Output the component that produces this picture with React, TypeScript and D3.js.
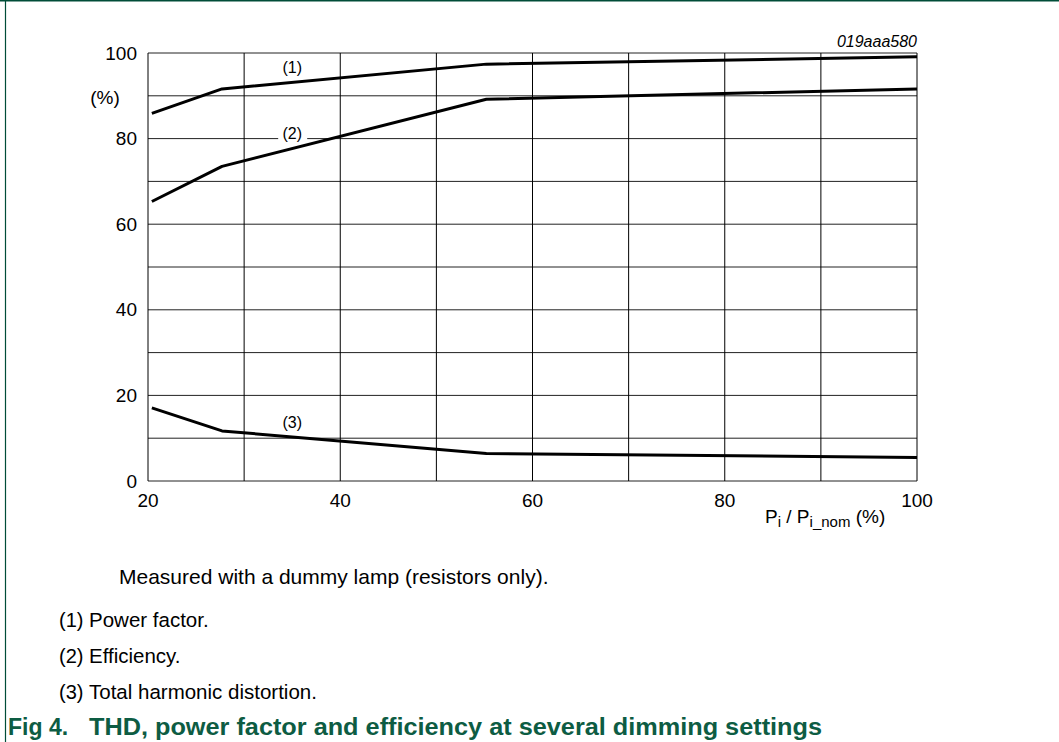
import React, { useRef, useEffect } from 'react';
import * as d3 from 'd3';

const dimSetting = [20.4, 27.7, 55.2, 100];
const powerFactor = [85.9, 91.6, 97.4, 99.1];
const efficiency = [65.3, 73.5, 89.2, 91.6];
const thd = [17.1, 11.7, 6.4, 5.5];

const xTicks = [20, 40, 60, 80, 100];
const yTicks = [0, 20, 40, 60, 80, 100];
const curveNames = ['(1)', '(2)', '(3)'];
const noteLabels = ['(1)', '(2)', '(3)'];
const noteTexts = ['Power factor.', 'Efficiency.', 'Total harmonic distortion.'];

const FONT = '"Liberation Sans", Arial, Helvetica, sans-serif';
const GREEN = '#0d5c43';

const App = () => {
  const svgRef = useRef(null);
  const width = 1059;
  const height = 742;

  useEffect(() => {
    const svg = d3.select(svgRef.current);
    svg.selectAll('*').remove();

    const x = d3.scaleLinear().domain([20, 100]).range([148, 917]);
    const y = d3.scaleLinear().domain([0, 100]).range([481, 53]);

    // frame (top + left only)
    svg.append('line')
      .attr('x1', 0).attr('x2', width).attr('y1', 0.75).attr('y2', 0.75)
      .attr('stroke', '#004d38').attr('stroke-width', 1.5);
    svg.append('line')
      .attr('x1', 5.5).attr('x2', 5.5).attr('y1', 0).attr('y2', height)
      .attr('stroke', '#004d38').attr('stroke-width', 1.2);

    const g = svg.append('g');

    // grid
    g.selectAll('.hgrid')
      .data(d3.range(0, 101, 10))
      .join('line')
      .attr('x1', x(20)).attr('x2', x(100))
      .attr('y1', d => y(d)).attr('y2', d => y(d))
      .attr('stroke', '#222').attr('stroke-width', 1);
    g.selectAll('.vgrid')
      .data(d3.range(20, 101, 10))
      .join('line')
      .attr('x1', d => x(d)).attr('x2', d => x(d))
      .attr('y1', y(0)).attr('y2', y(100))
      .attr('stroke', '#000').attr('stroke-width', 1);

    // tick labels
    g.selectAll('.ylab')
      .data(yTicks)
      .join('text')
      .attr('x', 137).attr('y', d => y(d))
      .attr('dy', '0.35em')
      .attr('text-anchor', 'end')
      .attr('font-family', FONT).attr('font-size', 19)
      .text(d => d);
    g.append('text')
      .attr('x', 105).attr('y', 97).attr('dy', '0.35em')
      .attr('text-anchor', 'middle')
      .attr('font-family', FONT).attr('font-size', 19)
      .text('(%)');
    g.selectAll('.xlab')
      .data(xTicks)
      .join('text')
      .attr('x', d => x(d)).attr('y', 507)
      .attr('text-anchor', 'middle')
      .attr('font-family', FONT).attr('font-size', 19)
      .text(d => d);

    const xt = g.append('text')
      .attr('x', 765).attr('y', 523)
      .attr('font-family', FONT).attr('font-size', 19);
    xt.append('tspan').text('P');
    xt.append('tspan').attr('font-size', 15).attr('dy', 4).text('i');
    xt.append('tspan').attr('dy', -4).text(' / P');
    xt.append('tspan').attr('font-size', 15).attr('dy', 4).text('i_nom');
    xt.append('tspan').attr('dy', -4).text(' (%)');

    g.append('text')
      .attr('x', 917).attr('y', 47)
      .attr('text-anchor', 'end')
      .attr('font-family', FONT).attr('font-size', 16)
      .attr('font-style', 'italic')
      .text('019aaa580');

    // curves
    const series = [powerFactor, efficiency, thd];
    const line = d3.line()
      .x((d, i) => x(dimSetting[i]))
      .y(d => y(d));
    series.forEach(s => {
      g.append('path')
        .attr('d', line(s))
        .attr('fill', 'none')
        .attr('stroke', '#000')
        .attr('stroke-width', 3)
        .attr('stroke-linejoin', 'round');
    });

    // curve labels, (2) sits on the 80 grid line with a white knock-out
    const labelAt = [[35, 96.6], [35, 81.3], [35, 13.8]];
    curveNames.forEach((name, i) => {
      const [lx, ly] = labelAt[i];
      if (i === 1) {
        g.append('rect')
          .attr('x', x(lx) - 14).attr('y', y(ly) - 9)
          .attr('width', 29).attr('height', 18)
          .attr('fill', '#fff');
      }
      g.append('text')
        .attr('x', x(lx)).attr('y', y(ly))
        .attr('dy', '0.35em')
        .attr('text-anchor', 'middle')
        .attr('font-family', FONT).attr('font-size', 16)
        .text(name);
    });

    // notes below the chart
    svg.append('text')
      .attr('x', 119).attr('y', 584)
      .attr('font-family', FONT).attr('font-size', 21)
      .text('Measured with a dummy lamp (resistors only).');
    noteTexts.forEach((t, i) => {
      const by = 627 + i * 36;
      svg.append('text')
        .attr('x', 59).attr('y', by)
        .attr('font-family', FONT).attr('font-size', 20)
        .text(noteLabels[i]);
      svg.append('text')
        .attr('x', 89).attr('y', by)
        .attr('font-family', FONT).attr('font-size', 20.5)
        .text(t);
    });

    svg.append('text')
      .attr('x', 8).attr('y', 735)
      .attr('font-family', FONT).attr('font-size', 23)
      .attr('font-weight', 'bold').attr('fill', GREEN)
      .text('Fig 4.');
    svg.append('text')
      .attr('x', 89).attr('y', 735)
      .attr('font-family', FONT).attr('font-size', 23)
      .attr('font-weight', 'bold').attr('fill', GREEN)
      .attr('textLength', 733).attr('lengthAdjust', 'spacingAndGlyphs')
      .text('THD, power factor and efficiency at several dimming settings');
  }, []);

  return (
    <svg
      ref={svgRef}
      width={width}
      height={height}
      style={{ position: 'absolute', left: 0, top: 0, background: '#fff' }}
    ></svg>
  );
};

export default App;
